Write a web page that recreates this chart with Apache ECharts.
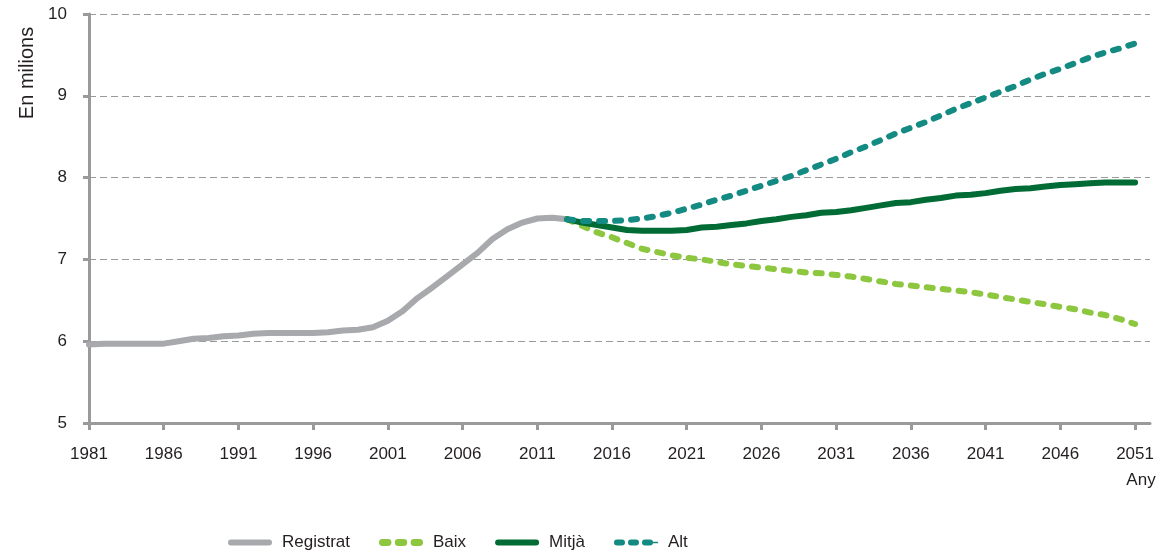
<!DOCTYPE html>
<html>
<head>
<meta charset="utf-8">
<title>Projeccions de població</title>
<script src="https://cdn.jsdelivr.net/npm/echarts@6/dist/echarts.min.js"></script>
<style>
  html, body { margin: 0; padding: 0; background: #fff; }
  #chart { width: 1172px; height: 559px; }
</style>
</head>
<body>
<div id="chart"></div>
<script>
// anys de l'eix (1981-2051); l'eix s'allarga un any buit a la dreta
var firstYear = 1981
var lastYear = 2051
var years = []
for (var y = firstYear; y <= lastYear + 1; y++) years.push(String(y))

// població registrada, 1981-2013 (milions)
var registratStart = 1981
var registrat = [
  5.96, 5.97, 5.97, 5.97, 5.97, 5.97, 6.00, 6.03, 6.04, 6.06,
  6.07, 6.09, 6.10, 6.10, 6.10, 6.10, 6.11, 6.13, 6.14, 6.17,
  6.25, 6.37, 6.53, 6.66, 6.80, 6.94, 7.08, 7.25, 7.37, 7.45,
  7.50, 7.51, 7.49
]

// projeccions, 2013-2051
var projStart = 2013
var baix = [
  7.49, 7.41, 7.33, 7.27, 7.20, 7.13, 7.09, 7.05, 7.02, 7.00,
  6.97, 6.94, 6.92, 6.90, 6.88, 6.86, 6.84, 6.83, 6.81, 6.79,
  6.76, 6.73, 6.70, 6.68, 6.66, 6.64, 6.62, 6.60, 6.57, 6.54,
  6.51, 6.48, 6.45, 6.42, 6.39, 6.35, 6.32, 6.27, 6.21
]
var mitja = [
  7.49, 7.45, 7.42, 7.39, 7.36, 7.35, 7.35, 7.35, 7.36, 7.39,
  7.40, 7.42, 7.44, 7.47, 7.49, 7.52, 7.54, 7.57, 7.58, 7.60,
  7.63, 7.66, 7.69, 7.70, 7.73, 7.75, 7.78, 7.79, 7.81, 7.84,
  7.86, 7.87, 7.89, 7.91, 7.92, 7.93, 7.94, 7.94, 7.94
]
var alt = [
  7.49, 7.47, 7.47, 7.47, 7.48, 7.50, 7.53, 7.57, 7.62, 7.67,
  7.73, 7.78, 7.84, 7.90, 7.96, 8.02, 8.09, 8.16, 8.23, 8.31,
  8.38, 8.46, 8.54, 8.61, 8.68, 8.76, 8.84, 8.91, 8.98, 9.05,
  9.12, 9.20, 9.27, 9.33, 9.40, 9.47, 9.53, 9.58, 9.64
]

// omple amb null fora del tram de la sèrie
function onAxis(values, start) {
  var out = []
  for (var i = 0; i < years.length; i++) {
    var k = firstYear + i - start
    out.push(k >= 0 && k < values.length ? values[k] : null)
  }
  return out
}

var font = '"Liberation Sans", Arial, sans-serif'
var textColor = '#231f20'
var axisGrey = '#9a9a9a'

// icones de la llegenda
var pill = 'path://M3,0h38a3,3 0 0 1 0,6h-38a3,3 0 0 1 0,-6z'
var dots = 'path://M3,0h5a3,3 0 0 1 0,6h-5a3,3 0 0 1 0,-6z' +
  'M17,0h5a3,3 0 0 1 0,6h-5a3,3 0 0 1 0,-6z' +
  'M31,0h5a3,3 0 0 1 0,6h-5a3,3 0 0 1 0,-6z'
var dotsTail = 'path://M3,0h5a3,3 0 0 1 0,6h-5a3,3 0 0 1 0,-6z' +
  'M17,0h5a3,3 0 0 1 0,6h-5a3,3 0 0 1 0,-6z' +
  'M31,0h5a3,3 0 0 1 0,6h-5a3,3 0 0 1 0,-6z' +
  'M38,2.3h6v1.4h-6z'

var myChart = echarts.init(document.getElementById('chart'))
myChart.setOption({
  animation: false,
  grid: { left: 89, right: 22, top: 14, bottom: 136 },
  legend: {
    bottom: 3,
    left: 223,
    itemWidth: 44,
    itemHeight: 7,
    itemGap: 29,
    textStyle: { fontFamily: font, fontSize: 17, color: textColor, padding: [0, 0, 0, 5] },
    data: [
      { name: 'Registrat', icon: pill },
      { name: 'Baix', icon: dots },
      { name: 'Mitjà', icon: pill },
      { name: 'Alt', icon: dotsTail }
    ]
  },
  xAxis: {
    type: 'category',
    data: years,
    boundaryGap: false,
    axisLine: { lineStyle: { color: axisGrey, width: 3 } },
    axisTick: { interval: 4, length: 7, lineStyle: { color: axisGrey, width: 3 } },
    axisLabel: { interval: 4, margin: 23, fontFamily: font, fontSize: 17, color: textColor },
    splitLine: { show: false }
  },
  yAxis: {
    type: 'value',
    min: 5,
    max: 10,
    interval: 1,
    axisLine: { show: true, lineStyle: { color: axisGrey, width: 3 } },
    axisTick: { show: true, length: 6, lineStyle: { color: axisGrey, width: 3 } },
    axisLabel: { margin: 22, fontFamily: font, fontSize: 17, color: textColor },
    splitLine: { lineStyle: { color: axisGrey, width: 1, type: [7, 4] } }
  },
  graphic: [
    {
      type: 'text',
      x: 27, y: 73,
      rotation: Math.PI / 2,
      style: { text: 'En milions', font: '20px ' + font, fill: textColor, align: 'center', verticalAlign: 'middle' }
    },
    {
      type: 'text',
      x: 1141, y: 480,
      style: { text: 'Any', font: '17px ' + font, fill: textColor, align: 'center', verticalAlign: 'middle' }
    }
  ],
  series: [
    {
      name: 'Registrat',
      type: 'line',
      data: onAxis(registrat, registratStart),
      symbol: 'none',
      lineStyle: { color: '#a7a9ac', width: 6, cap: 'round', join: 'round' },
      itemStyle: { color: '#a7a9ac' }
    },
    {
      name: 'Baix',
      type: 'line',
      data: onAxis(baix, projStart),
      symbol: 'none',
      lineStyle: { color: '#8dc63f', width: 6, type: [6, 10], cap: 'round', join: 'round' },
      itemStyle: { color: '#8dc63f' }
    },
    {
      name: 'Mitjà',
      type: 'line',
      data: onAxis(mitja, projStart),
      symbol: 'none',
      lineStyle: { color: '#006b35', width: 6, cap: 'round', join: 'round' },
      itemStyle: { color: '#006b35' }
    },
    {
      name: 'Alt',
      type: 'line',
      data: onAxis(alt, projStart),
      symbol: 'none',
      lineStyle: { color: '#138a82', width: 6, type: [6, 10], cap: 'round', join: 'round' },
      itemStyle: { color: '#138a82' }
    }
  ]
})
</script>
</body>
</html>
